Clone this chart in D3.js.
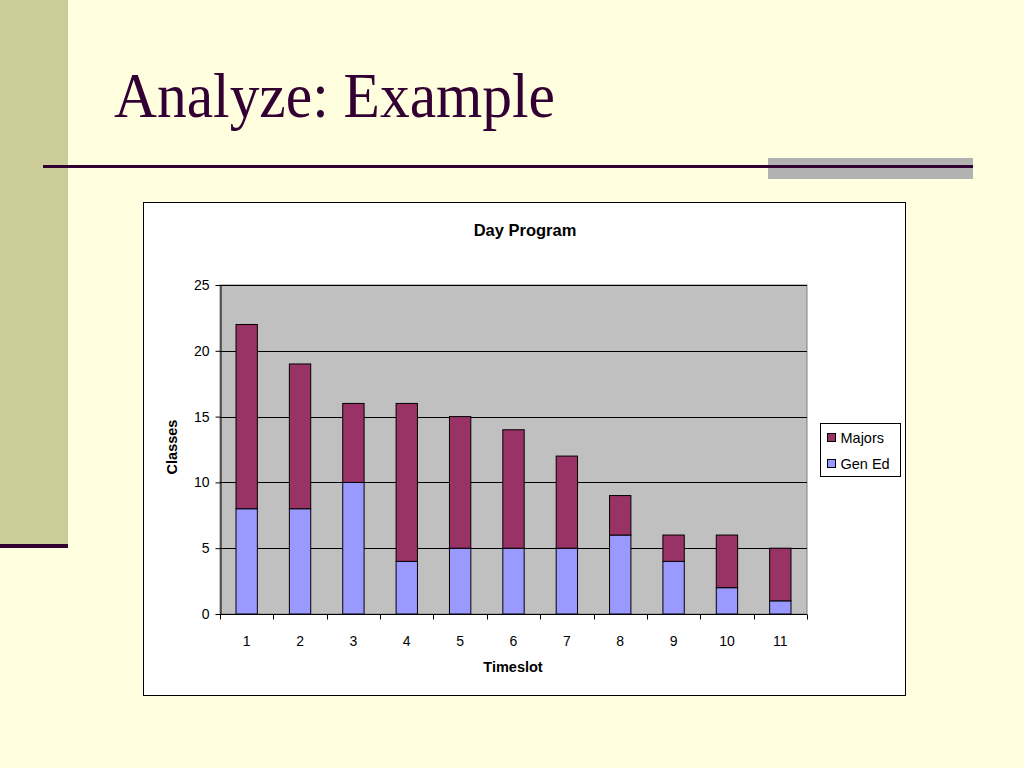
<!DOCTYPE html>
<html>
<head>
<meta charset="utf-8">
<script src="https://cdn.jsdelivr.net/npm/d3@7"></script>
<style>
  html, body { margin: 0; padding: 0; background: #FFFFDF; }
  svg { display: block; }
</style>
</head>
<body>
<div id="root"></div>
<script>
// data
const timeslots = ['1', '2', '3', '4', '5', '6', '7', '8', '9', '10', '11'];
const genEd = [8, 8, 10, 4, 5, 5, 5, 6, 4, 2, 1];
const majors = [14, 11, 6, 12, 10, 9, 7, 3, 2, 4, 4];
const seriesNames = ['Gen Ed', 'Majors'];
const seriesColors = {'Majors': '#993366', 'Gen Ed': '#9999FF'};
const yTicks = [0, 5, 10, 15, 20, 25];

const W = 1024, H = 768;
const svg = d3.select('#root').append('svg')
  .attr('width', W)
  .attr('height', H);

// slide background + decorations
svg.append('rect').attr('width', W).attr('height', H).attr('fill', '#FFFFDF');
svg.append('rect').attr('x', 0).attr('y', 0).attr('width', 68).attr('height', 544)
  .attr('fill', '#CCCC99');
svg.append('rect').attr('x', 0).attr('y', 544).attr('width', 68).attr('height', 4)
  .attr('fill', '#330033');
svg.append('rect').attr('x', 768).attr('y', 158).attr('width', 205).attr('height', 21)
  .attr('fill', '#B2B2B2');
svg.append('rect').attr('x', 43).attr('y', 165).attr('width', 930).attr('height', 3)
  .attr('fill', '#330033');

svg.append('text')
  .text('Analyze: Example')
  .attr('x', 114)
  .attr('y', 117)
  .attr('font-family', '"Liberation Serif", "Times New Roman", serif')
  .attr('font-size', '64px')
  .attr('textLength', 441)
  .attr('lengthAdjust', 'spacingAndGlyphs')
  .attr('fill', '#330033');

// chart frame
svg.append('rect')
  .attr('x', 143.5).attr('y', 202.5)
  .attr('width', 762).attr('height', 493)
  .attr('fill', '#FFFFFF')
  .attr('stroke', '#000').attr('stroke-width', 1);

const font = '"Liberation Sans", Arial, sans-serif';

svg.append('text')
  .text('Day Program')
  .attr('x', 525).attr('y', 236)
  .attr('text-anchor', 'middle')
  .attr('font-family', font)
  .attr('font-size', '16.5px')
  .attr('font-weight', 'bold');

const plot = {left: 220, right: 807, top: 285, bottom: 614};

const x = d3.scaleBand()
  .domain(timeslots)
  .range([plot.left, plot.right])
  .paddingInner(0.6)
  .paddingOuter(0.3);
const y = d3.scaleLinear()
  .domain([0, 25])
  .range([plot.bottom, plot.top]);

svg.append('rect')
  .attr('x', plot.left).attr('y', plot.top)
  .attr('width', plot.right - plot.left).attr('height', plot.bottom - plot.top)
  .attr('fill', '#C0C0C0')
  .attr('stroke', '#808080');

// gridlines
svg.append('g')
  .selectAll('line')
  .data(yTicks.filter(d => d > 0))
  .join('line')
    .attr('x1', plot.left).attr('x2', plot.right)
    .attr('y1', d => Math.round(y(d)) + 0.5).attr('y2', d => Math.round(y(d)) + 0.5)
    .attr('stroke', '#000');

// stacked bars
const table = timeslots.map((t, i) => ({slot: t, 'Gen Ed': genEd[i], 'Majors': majors[i]}));
const stack = d3.stack().keys(seriesNames)(table);

svg.append('g')
  .selectAll('g')
  .data(stack)
  .join('g')
    .attr('fill', d => seriesColors[d.key])
  .selectAll('rect')
  .data(d => d)
  .join('rect')
    .attr('x', d => x(d.data.slot))
    .attr('width', x.bandwidth())
    .attr('y', d => y(d[1]))
    .attr('height', d => y(d[0]) - y(d[1]))
    .attr('stroke', '#000')
    .attr('stroke-width', 1);

// y axis
const yAxis = svg.append('g')
  .attr('transform', 'translate(' + (plot.left + 0.5) + ',0)')
  .call(d3.axisLeft(y).tickValues(yTicks).tickSize(5).tickPadding(6).tickSizeOuter(0));
yAxis.selectAll('text').attr('font-size', '14px').attr('font-family', font).attr('fill', '#000');
yAxis.select('.domain').attr('stroke', '#000');

// x axis: ticks sit between categories, like Excel
const xAxisG = svg.append('g')
  .attr('transform', 'translate(0,' + (plot.bottom + 0.5) + ')');
xAxisG.append('line')
  .attr('x1', plot.left).attr('x2', plot.right)
  .attr('stroke', '#000');
const step = (plot.right - plot.left) / timeslots.length;
xAxisG.selectAll('.tk')
  .data(d3.range(timeslots.length + 1))
  .join('line')
    .attr('class', 'tk')
    .attr('x1', i => Math.round(plot.left + i * step) + 0.5)
    .attr('x2', i => Math.round(plot.left + i * step) + 0.5)
    .attr('y1', 0).attr('y2', 5)
    .attr('stroke', '#000');
xAxisG.selectAll('.lbl')
  .data(timeslots)
  .join('text')
    .attr('class', 'lbl')
    .attr('x', d => x(d) + x.bandwidth() / 2)
    .attr('y', 31)
    .attr('text-anchor', 'middle')
    .attr('font-family', font)
    .attr('font-size', '14px')
    .text(d => d);

svg.append('text')
  .text('Timeslot')
  .attr('x', 513).attr('y', 672)
  .attr('text-anchor', 'middle')
  .attr('font-family', font)
  .attr('font-size', '14.5px')
  .attr('font-weight', 'bold');

svg.append('text')
  .text('Classes')
  .attr('transform', 'translate(177,447) rotate(-90)')
  .attr('text-anchor', 'middle')
  .attr('font-family', font)
  .attr('font-size', '14.5px')
  .attr('font-weight', 'bold');

// legend
const legend = svg.append('g').attr('transform', 'translate(820.5,423.5)');
legend.append('rect')
  .attr('width', 80).attr('height', 53)
  .attr('fill', '#FFFFFF').attr('stroke', '#000');
const legendItems = ['Majors', 'Gen Ed'];
const li = legend.selectAll('.item')
  .data(legendItems)
  .join('g')
    .attr('class', 'item')
    .attr('transform', (d, i) => 'translate(7,' + (10 + i * 26) + ')');
li.append('rect')
  .attr('width', 8).attr('height', 8)
  .attr('fill', d => seriesColors[d])
  .attr('stroke', '#000');
li.append('text')
  .attr('x', 13).attr('y', 9)
  .attr('font-family', font)
  .attr('font-size', '14.5px')
  .text(d => d);
</script>
</body>
</html>
